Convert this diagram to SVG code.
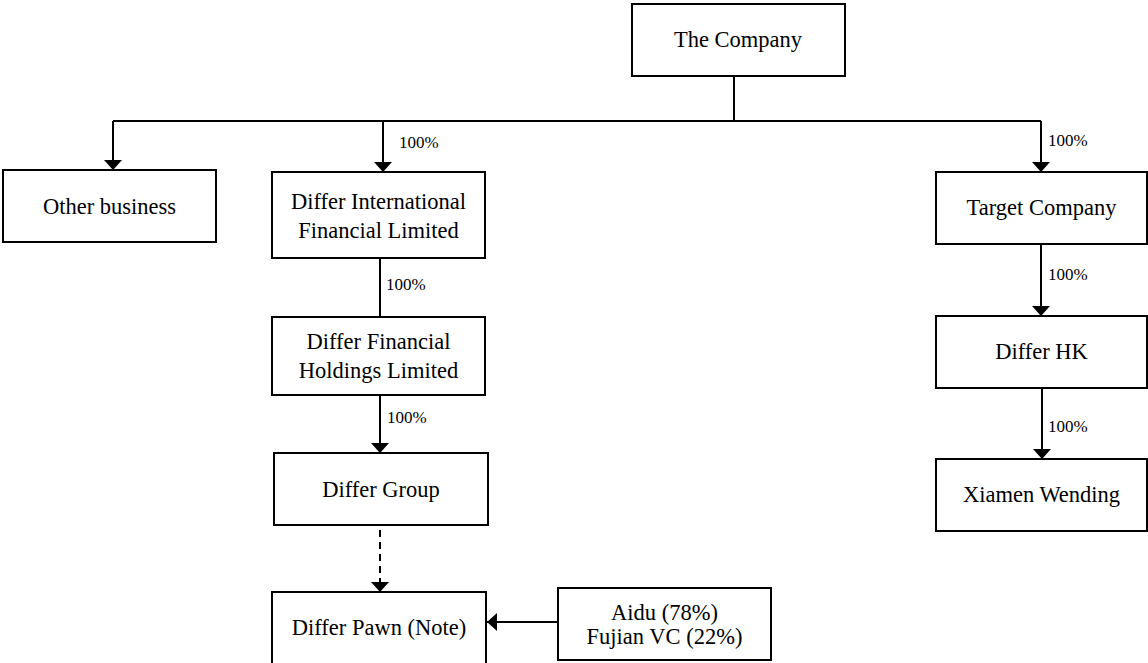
<svg xmlns="http://www.w3.org/2000/svg" width="1148" height="663" viewBox="0 0 1148 663">
<style>
.box{fill:#fff;stroke:#000;stroke-width:2}
.t{font-family:"Liberation Serif","Times New Roman",serif;font-size:22.5px;fill:#000;text-anchor:middle}
.p{font-family:"Liberation Serif","Times New Roman",serif;font-size:17px;fill:#000}
.c{fill:none;stroke:#000;stroke-width:2}
.d{fill:none;stroke:#000;stroke-width:2;stroke-dasharray:7 5}
</style>
<defs>
<marker id="ah" markerWidth="10" markerHeight="18" refX="10" refY="9" orient="auto" markerUnits="userSpaceOnUse" viewBox="0 0 10 18">
<path d="M0,0 L10,9 L0,18 Z" fill="#000"/>
</marker>
</defs>
<g id="connectors">
<path class="c" d="M734,76 V121"/>
<path class="c" d="M113,121 H1041"/>
<path class="c" d="M113,121 V170" marker-end="url(#ah)"/>
<path class="c" d="M383,121 V172" marker-end="url(#ah)"/>
<path class="c" d="M1041,121 V172" marker-end="url(#ah)"/>
<path class="c" d="M380,258 V317"/>
<path class="c" d="M380,395 V453" marker-end="url(#ah)"/>
<path class="d" d="M380,530 V592" marker-end="url(#ah)"/>
<path class="c" d="M558,622 H487" marker-end="url(#ah)"/>
<path class="c" d="M1041,244 V316" marker-end="url(#ah)"/>
<path class="c" d="M1042,388 V459" marker-end="url(#ah)"/>
<text class="p" x="399" y="148">100%</text>
<text class="p" x="386" y="290">100%</text>
<text class="p" x="387" y="423">100%</text>
<text class="p" x="1048" y="146">100%</text>
<text class="p" x="1048" y="280">100%</text>
<text class="p" x="1048" y="432">100%</text>
</g>
<g id="company"><rect class="box" x="632" y="4" width="213" height="72"/><text class="t" x="738" y="47">The Company</text></g>
<g id="other"><rect class="box" x="3" y="170" width="213" height="72"/><text class="t" x="109.5" y="213.5">Other business</text></g>
<g id="difl"><rect class="box" x="272" y="172" width="213" height="86"/><text class="t" x="378.5" y="209">Differ International</text><text class="t" x="378.5" y="238">Financial Limited</text></g>
<g id="dfhl"><rect class="box" x="272" y="317" width="213" height="78"/><text class="t" x="378.5" y="349">Differ Financial</text><text class="t" x="378.5" y="378">Holdings Limited</text></g>
<g id="group"><rect class="box" x="274" y="453" width="214" height="72"/><text class="t" x="381" y="497">Differ Group</text></g>
<g id="pawn"><rect class="box" x="272" y="592" width="214" height="72"/><text class="t" x="379" y="635">Differ Pawn (Note)</text></g>
<g id="aidu"><rect class="box" x="558" y="588" width="213" height="72"/><text class="t" x="664.5" y="620">Aidu (78%)</text><text class="t" x="664.5" y="644">Fujian VC (22%)</text></g>
<g id="target"><rect class="box" x="936" y="172" width="211" height="72"/><text class="t" x="1041.5" y="215">Target Company</text></g>
<g id="hk"><rect class="box" x="936" y="316" width="211" height="72"/><text class="t" x="1041.5" y="359">Differ HK</text></g>
<g id="xiamen"><rect class="box" x="936" y="459" width="211" height="72"/><text class="t" x="1041.5" y="502">Xiamen Wending</text></g>
</svg>
